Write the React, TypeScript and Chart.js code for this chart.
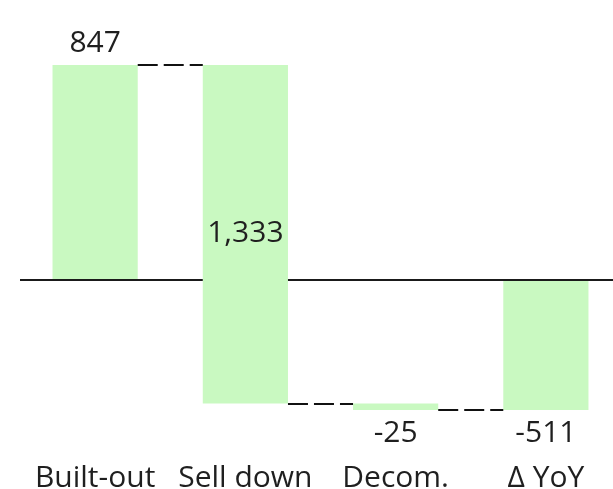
import React, { useEffect, useRef } from "react";
import { Chart, registerables } from "chart.js";

Chart.register(...registerables);

const categories = ["Built-out", "Sell down", "Decom.", "Δ YoY"];
const changes = [847, -1333, -25];
const totalValue = -511;
const valueLabels = ["847", "1,333", "-25", "-511"];
const labelPlacement = ["above", "middle", "below", "below"];

const FONT = '30px "Open Sans"';
const TEXT = "#1f1f1f";
const BAR = "#C9F9C1";

function buildRanges(): [number, number][] {
  const out: [number, number][] = [];
  let run = 0;
  for (const c of changes) {
    out.push([run, run + c]);
    run += c;
  }
  out.push([0, totalValue]);
  return out;
}

const waterfallPlugin = {
  id: "waterfall",
  afterDatasetsDraw(chart: any) {
    const ctx = chart.ctx;
    const ys = chart.scales.y;
    const xs = chart.scales.x;
    const meta = chart.getDatasetMeta(0);
    const ranges = chart.data.datasets[0].data as [number, number][];
    const bars = meta.data as any[];
    ctx.save();
    // zero line, hidden behind bars crossing zero
    const y0 = ys.getPixelForValue(0);
    const left = chart.chartArea.left;
    const right = chart.width;
    const cuts: [number, number][] = [];
    ranges.forEach((r, i) => {
      const lo = Math.min(r[0], r[1]);
      const hi = Math.max(r[0], r[1]);
      if (lo < 0 && hi > 0) {
        cuts.push([bars[i].x - bars[i].width / 2, bars[i].x + bars[i].width / 2]);
      }
    });
    ctx.strokeStyle = "#1a1a1a";
    ctx.lineWidth = 2;
    ctx.beginPath();
    let start = left;
    for (const c of cuts) {
      ctx.moveTo(start, y0);
      ctx.lineTo(c[0], y0);
      start = c[1];
    }
    ctx.moveTo(start, y0);
    ctx.lineTo(right, y0);
    ctx.stroke();

    // connectors
    ctx.setLineDash([20, 6]);
    ctx.lineWidth = 2;
    ctx.strokeStyle = "#111";
    for (let i = 0; i < ranges.length - 1; i++) {
      const yy = Math.round(ys.getPixelForValue(ranges[i][1]));
      const x1 = bars[i].x + bars[i].width / 2;
      const x2 = bars[i + 1].x - bars[i + 1].width / 2;
      ctx.beginPath();
      ctx.moveTo(x1, yy);
      ctx.lineTo(x2, yy);
      ctx.stroke();
    }
    ctx.setLineDash([]);

    // value labels
    ctx.font = FONT;
    ctx.fillStyle = TEXT;
    ctx.textAlign = "center";
    ctx.textBaseline = "alphabetic";
    ranges.forEach((r, i) => {
      const top = Math.min(ys.getPixelForValue(r[0]), ys.getPixelForValue(r[1]));
      const bot = Math.max(ys.getPixelForValue(r[0]), ys.getPixelForValue(r[1]));
      let ty = 0;
      if (labelPlacement[i] === "above") ty = top - 13;
      else if (labelPlacement[i] === "middle") ty = (top + bot) / 2 + 8;
      else ty = bot + 32;
      ctx.fillText(valueLabels[i], bars[i].x, ty);
    });

    // category labels
    categories.forEach((c, i) => {
      ctx.fillText(c, xs.getPixelForValue(i), 487);
    });
    ctx.restore();
  },
};

export default function App() {
  const ref = useRef<HTMLCanvasElement | null>(null);
  useEffect(() => {
    let chart: Chart | null = null;
    let cancelled = false;
    const make = () => {
      if (cancelled || !ref.current) return;
      chart = new Chart(ref.current, {
        type: "bar",
        data: {
          labels: categories,
          datasets: [
            {
              data: buildRanges() as any,
              backgroundColor: BAR,
              borderWidth: 0,
              barPercentage: 0.567,
              categoryPercentage: 1,
            },
          ],
        },
        options: {
          animation: false,
          responsive: false,
          devicePixelRatio: 1,
          layout: { padding: { left: 20, right: 20, top: 26, bottom: 31 } },
          plugins: { legend: { display: false }, tooltip: { enabled: false } },
          scales: {
            x: { display: false, offset: true },
            y: { display: false, min: -700, max: 1000 },
          },
        },
        plugins: [waterfallPlugin],
      });
    };
    const fonts = (document as any).fonts;
    if (fonts && fonts.load) {
      fonts.load(FONT).then(make, make);
    } else make();
    return () => {
      cancelled = true;
      if (chart) chart.destroy();
    };
  }, []);
  return (
    <div
      style={{
        position: "fixed",
        left: 0,
        top: 0,
        width: 613,
        height: 489,
        overflow: "hidden",
        background: "#fff",
      }}
    >
      <canvas ref={ref} width={641} height={489} style={{ display: "block", width: 641, height: 489 }} />
    </div>
  );
}
